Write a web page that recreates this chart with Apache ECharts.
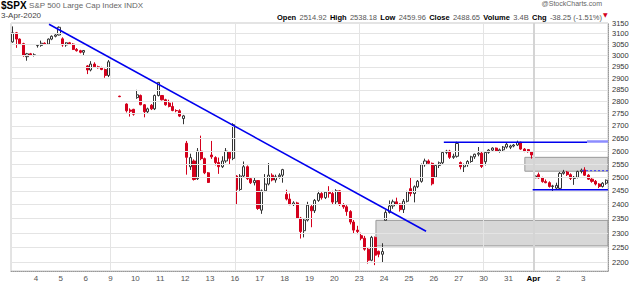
<!DOCTYPE html>
<html><head><meta charset="utf-8">
<script src="https://cdn.jsdelivr.net/npm/echarts@6/dist/echarts.min.js"></script>
<style>html,body{margin:0;padding:0;background:#fff}#c{width:640px;height:282px}</style>
</head><body><div id="c"></div>
<script>
// Day labels (one per trading day; 7 hourly bars per day)
const dayLabels = ['3','4','5','6','9','10','11','12','13','16','17','18','19','20','23','24','25','26','27','30','31','Apr','2','3'];
const barsPerDay = 7;

// Hourly OHLC, Mar 3 .. Apr 3 2020 (null = no bar)
const opens = [
3062,3104,3075,3054,2995,3008,3002,
3045,3046,3056,3052,3075,3088,3094,
3076,3048,3058,3052,3028,3022,3015,
2954,2936,2962,2950,2946,2938,2912,
null,null,2823,null,2790,2765,2768,
2817,2826,2787,2758,2785,2770,2826,
2826,2808,2794,2780,2763,2762,2730,
2631,2540,2562,2495,2600,2571,2517,
2585,2575,2556,2540,2562,2596,2572,
2505,2455,2505,2540,2495,2480,2488,
2380,2450,2475,2508,2490,2502,2508,
2437,2420,2400,2406,2352,2308,2345,
2393,2378,2415,2440,2425,2445,2440,
2410,2450,2400,2392,2375,2338,2310,
2291,2282,2245,2208,2285,2238,2228,
2344,2372,2395,2410,2402,2382,2412,
2458,2440,2465,2485,2548,2562,2553,
2501,2545,2555,2595,2600,2576,2580,
2556,2540,2548,2560,2578,2588,2592,
2559,2595,2604,2612,2600,2605,2616,
2615,2620,2624,2635,2608,2606,2598,
2498,2510,2498,2484,2480,2466,2460,
2459,2515,2520,2510,2496,2500,2522,
2528,2508,2493,2485,2475,2466,2478];
const highs = [
3134,3108,3078,3058,3012,3012,3010,
3052,3068,3060,3078,3092,3098,3134,
3083,3060,3062,3056,3034,3026,3025,
2958,2975,2970,2955,2950,2942,2980,
null,null,2825,null,2793,2772,2770,
2850,2830,2790,2775,2790,2830,2883,
2828,2812,2808,2797,2768,2768,2745,
2640,2590,2568,2612,2661,2575,2520,
2640,2580,2575,2580,2612,2600,2711,
2508,2512,2560,2545,2500,2500,2490,
2455,2512,2554,2515,2510,2515,2532,
2454,2440,2412,2410,2356,2350,2410,
2400,2420,2450,2445,2448,2467,2450,
2456,2452,2405,2398,2380,2345,2325,
2301,2290,2250,2290,2288,2240,2265,
2380,2415,2418,2425,2405,2420,2450,
2500,2470,2490,2552,2571,2568,2556,
2550,2560,2600,2605,2605,2590,2637,
2560,2552,2565,2582,2590,2616,2598,
2600,2608,2615,2614,2610,2620,2632,
2625,2628,2641,2637,2612,2608,2600,
2523,2518,2502,2492,2485,2472,2480,
2520,2528,2524,2515,2505,2525,2533,
2538,2512,2497,2490,2478,2482,2492];
const lows = [
3058,3035,3050,2995,2977,2998,2996,
3036,3040,3048,3050,3070,3083,3092,
3040,3040,3050,3025,3018,3010,3000,
2918,2930,2945,2942,2935,2902,2905,
null,null,2819,null,2755,2738,2742,
2812,2785,2735,2750,2765,2765,2822,
2805,2783,2776,2760,2756,2736,2707,
2510,2528,2488,2490,2565,2512,2479,
2570,2545,2513,2535,2555,2547,2565,
2400,2450,2500,2490,2475,2470,2381,
2367,2445,2470,2485,2480,2495,2480,
2415,2398,2395,2350,2281,2285,2340,
2320,2370,2410,2418,2420,2425,2400,
2400,2395,2385,2360,2330,2300,2296,
2275,2240,2197,2205,2192,2218,2200,
2344,2368,2385,2398,2375,2370,2408,
2430,2408,2460,2480,2540,2548,2470,
2501,2535,2550,2588,2570,2570,2575,
2530,2520,2540,2555,2570,2580,2535,
2545,2590,2598,2598,2594,2598,2610,
2608,2615,2620,2605,2596,2594,2571,
2490,2495,2480,2478,2462,2447,2455,
2456,2510,2505,2490,2472,2496,2515,
2505,2490,2480,2470,2460,2462,2472];
const closes = [
3104,3075,3054,3000,3008,3002,3003,
3046,3056,3052,3075,3088,3094,3130,
3048,3058,3052,3028,3022,3015,3023,
2936,2962,2950,2946,2938,2912,2972,
null,null,2821,null,2762,2760,2748,
2829,2787,2758,2770,2770,2826,2882,
2808,2787,2780,2763,2762,2740,2741,
2576,2575,2492,2600,2571,2517,2481,
2578,2556,2540,2562,2600,2572,2705,
2455,2505,2540,2495,2480,2488,2386,
2450,2475,2508,2490,2502,2508,2529,
2420,2400,2406,2352,2305,2345,2398,
2378,2415,2440,2425,2445,2440,2409,
2450,2400,2392,2375,2338,2310,2305,
2282,2245,2208,2285,2225,2228,2237,
2372,2395,2410,2402,2382,2412,2447,
2440,2465,2485,2548,2562,2553,2476,
2545,2555,2595,2600,2576,2580,2630,
2540,2548,2560,2578,2588,2592,2541,
2595,2604,2612,2600,2605,2616,2627,
2620,2624,2635,2608,2600,2598,2585,
2505,2498,2484,2480,2466,2468,2470,
2515,2520,2510,2496,2500,2522,2527,
2508,2493,2485,2475,2466,2478,2489];

// Price axis tick labels
const yTicks = [2200,2250,2300,2350,2400,2450,2500,2550,2600,2650,2700,2750,2800,2850,2900,2950,3000,3050,3100,3150];
// Annotation positions are in bar units (0 = left edge of first bar)
const trendX = [10.7, 116.8], trendY = [3144, 2306];
const resistX = [121.8, 162.1], resistY = 2635;
const resistExtX = [162.1, 168], resistExtY = 2638;
const supportX = [146.8, 168], supportY = 2454;
const dashX = [160.7, 168], dashY = 2525;
const box1X = [102.7, 168], box1Y = [2344, 2256];
const box2X = [144.6, 168], box2Y = [2576, 2523];
const vGridBars = [28, 63, 98, 133];
const monthStartBar = 147;

const N = opens.length;
const cats = opens.map((_, i) => String(i));
const candleData = opens.map((o, i) => o == null ? '-' : [o, closes[i], lows[i], highs[i]]);
const labelPos = dayLabels.map((_, d) => d * barsPerDay).slice(1);

const FONT = 'Liberation Sans, Arial, sans-serif';
const chart = echarts.init(document.getElementById('c'), null, {renderer: 'svg'});
chart.setOption({
  animation: false,
  textStyle: {fontFamily: FONT},
  grid: {left: 11, right: 32, top: 23, bottom: 11, show: true, borderColor: '#c8c8c8', borderWidth: 1},
  xAxis: [
    {type: 'category', data: cats, boundaryGap: true, position: 'bottom', show: false},
    {type: 'value', min: 0, max: N, position: 'bottom',
     axisLine: {show: true, onZero: false, lineStyle: {color: '#999', type: 'dotted'}},
     axisTick: {show: false}, splitLine: {show: false},
     axisLabel: {customValues: labelPos, fontSize: 8, color: '#555', margin: 3, fontFamily: FONT,
       formatter: v => { const l = dayLabels[Math.round(v / barsPerDay)]; return l === 'Apr' ? '{b|Apr}' : l; },
       rich: {b: {fontWeight: 'bold', color: '#000', fontSize: 8, fontFamily: FONT}}}}
  ],
  yAxis: {type: 'log', min: 2172.8, max: 3150, position: 'right',
    axisLine: {show: true, onZero: false, lineStyle: {color: '#999', type: 'dotted'}},
    axisTick: {show: false}, splitLine: {show: false},
    axisLabel: {customValues: yTicks, fontSize: 7.5, color: '#333', margin: 4, fontFamily: FONT,
      formatter: v => String(Math.round(v))}},
  series: [
    {type: 'line', xAxisIndex: 1, data: [], silent: true, z: 0,
     markLine: {silent: true, symbol: 'none', label: {show: false},
       lineStyle: {color: '#e4e4e4', type: 'solid', width: 1},
       data: yTicks.map(v => ({yAxis: v})).concat(vGridBars.map(b => ({xAxis: b})))
         .concat([{xAxis: monthStartBar, lineStyle: {color: '#d4d4d4', width: 2}}])},
     markArea: {silent: true,
       itemStyle: {color: 'rgba(150,150,150,0.38)', borderColor: '#999', borderWidth: 1},
       data: [
         [{coord: [box1X[0], box1Y[0]]}, {coord: [box1X[1], box1Y[1]]}],
         [{coord: [box2X[0], box2Y[0]]}, {coord: [box2X[1], box2Y[1]]}]
       ]}},
    {type: 'candlestick', data: candleData, barWidth: '72%', z: 3,
     itemStyle: {color: '#ffffff', color0: '#d4001c', borderColor: '#333', borderColor0: '#d4001c', borderWidth: 1}},
    {type: 'line', xAxisIndex: 1, z: 5, symbol: 'none', silent: true,
     lineStyle: {color: '#0000ee', width: 1.6},
     data: [[trendX[0], trendY[0]], [trendX[1], trendY[1]]]},
    {type: 'line', xAxisIndex: 1, z: 5, symbol: 'none', silent: true,
     lineStyle: {color: '#0000ee', width: 1.6},
     data: [[resistX[0], resistY], [resistX[1], resistY]]},
    {type: 'line', xAxisIndex: 1, z: 5, symbol: 'none', silent: true,
     lineStyle: {color: '#8c8cff', width: 2.5},
     data: [[resistExtX[0], resistExtY], [resistExtX[1], resistExtY]]},
    {type: 'line', xAxisIndex: 1, z: 5, symbol: 'none', silent: true,
     lineStyle: {color: '#0000ee', width: 1.6},
     data: [[supportX[0], supportY], [supportX[1], supportY]]},
    {type: 'line', xAxisIndex: 1, z: 5, symbol: 'none', silent: true,
     lineStyle: {color: '#3333ff', width: 1, type: [2, 2]},
     data: [[dashX[0], dashY], [dashX[1], dashY]]}
  ],
  graphic: [
    {type: 'text', left: 1, top: 0, style: {text: '{a|$SPX} {b|S&P 500 Large Cap Index INDX}', font: '9px ' + FONT,
      rich: {a: {fontWeight: 'bold', fontSize: 10, fill: '#000', fontFamily: FONT}, b: {fontSize: 8, fill: '#666', fontFamily: FONT}}}},
    {type: 'text', left: 1, top: 11, style: {text: '3-Apr-2020', fontSize: 8, fill: '#444', fontFamily: FONT}},
    {type: 'text', right: 38, top: 0, style: {text: '@StockCharts.com', fontSize: 7, fill: '#666', fontFamily: FONT}},
    {type: 'text', right: 38, top: 11, style: {
      text: '{k|Open} {v|2514.92} {k|High} {v|2538.18} {k|Low} {v|2459.96} {k|Close} {v|2488.65} {k|Volume} {v|3.4B} {k|Chg} {v|-38.25 (-1.51%)}',
      rich: {k: {fontWeight: 'bold', fontSize: 7.5, fill: '#000', fontFamily: FONT}, v: {fontSize: 7.5, fill: '#555', fontFamily: FONT}}}},
    {type: 'text', left: 603, top: 11, style: {text: '▼', fontSize: 6, fill: '#d4001c', fontFamily: 'DejaVu Sans'}}
  ]
});
</script></body></html>
